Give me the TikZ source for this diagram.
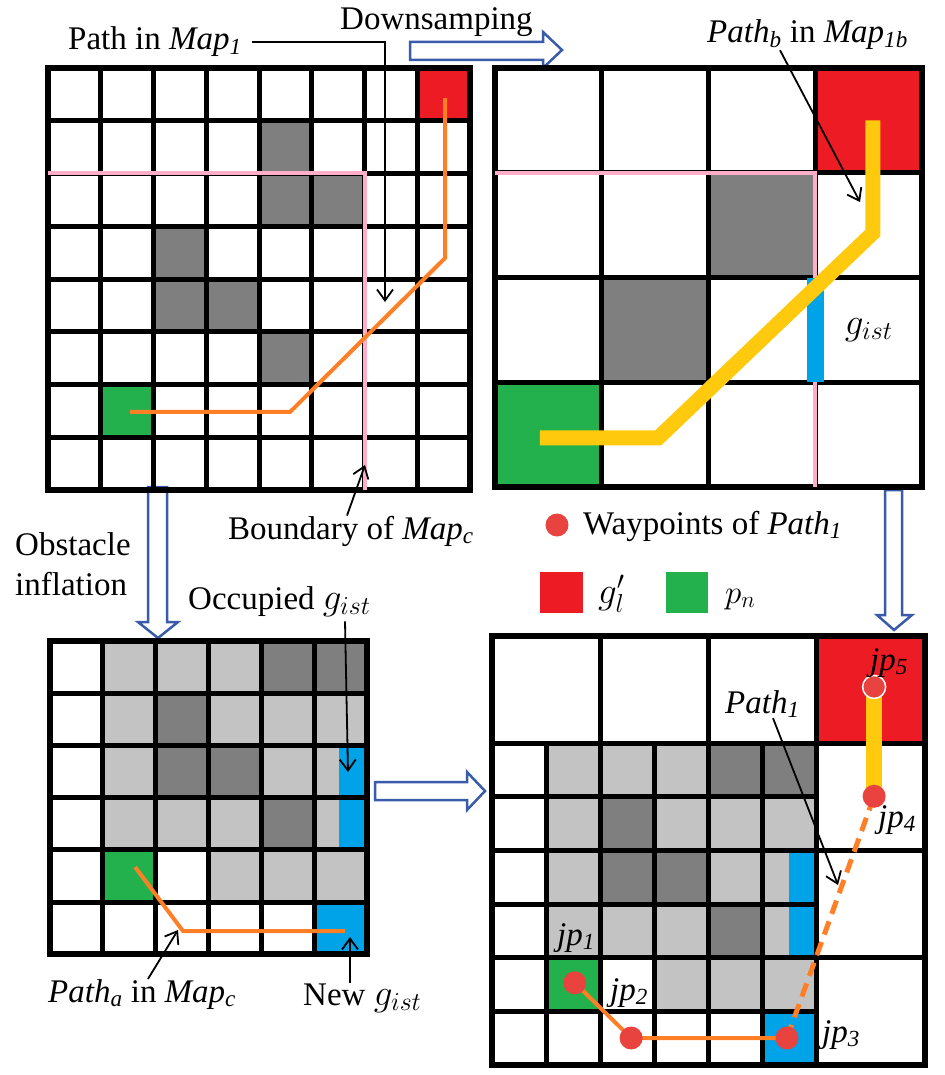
\RequirePackage{fix-cm}
\documentclass[tikz,border=0pt]{standalone}
\usepackage{fontspec}
\setmainfont{Liberation Serif}
\usepackage{tikz}
\usetikzlibrary{arrows.meta}
\usetikzlibrary{positioning}
\definecolor{cellred}{HTML}{ED1C24}
\definecolor{cellgreen}{HTML}{22B14C}
\definecolor{darkcell}{HTML}{7F7F7F}
\definecolor{lightcell}{HTML}{C3C3C3}
\definecolor{gistblue}{HTML}{00A2E8}
\definecolor{pathorange}{HTML}{FF7F27}
\definecolor{pathyellow}{HTML}{FFC90E}
\definecolor{boundpink}{HTML}{FFAEC9}
\definecolor{flowblue}{HTML}{3A5BAA}
\definecolor{wpred}{HTML}{E8433F}
\newcommand{\itsub}[2]{\textit{#1}\textsubscript{\textit{#2}}}
\newcommand{\gist}{{\fontsize{37}{40}\selectfont$g_{ist}$}}
\tikzset{mapline/.style = {line width=5pt}}
\tikzset{mapframe/.style = {line width=6pt}}
\tikzset{boundline/.style = {boundpink, line width=4pt}}
\tikzset{pathline/.style = {pathorange, line width=4pt}}
\tikzset{widepath/.style = {pathyellow, line width=16pt}}
\tikzset{callout/.style = {line width=1.8pt, -{Straight Barb[length=11pt, width=16pt]}}}
\tikzset{flow/.style = {draw=flowblue, line width=2.5pt, fill=white}}
\tikzset{txt/.style = {anchor=base west, inner sep=0}}
\tikzset{waypoint/.style = {circle, fill=wpred, inner sep=0, minimum size=23pt}}

\begin{document}
\begin{tikzpicture}[x=1pt, y=-1pt, every node/.style={font=\fontsize{33}{40}\selectfont}]
  \useasboundingbox (0,0) rectangle (944,1075);

  \draw[flow] (410,42) -- (543,42) -- (543,32) -- (562,50) -- (543,68) -- (543,60) -- (410,60) -- cycle;
  \draw[flow] (148,487) -- (148,622) -- (138,622) -- (158,638) -- (178,622) -- (167,622) -- (167,487) -- cycle;
  \draw[flow] (885,490) -- (885,615) -- (877,615) -- (894,630) -- (912,615) -- (902,615) -- (902,490) -- cycle;
  \draw[flow] (375,782) -- (467,782) -- (467,772) -- (485,791) -- (467,810) -- (467,800) -- (375,800) -- cycle;

  \begin{scope}[shift={(48,68)}, x=52.75pt, y=-52.75pt]
    \fill[cellred] (7,0) rectangle (8,1);
    \foreach \c/\r in {4/1,4/2,5/2,2/3,2/4,3/4,4/5}
      \fill[darkcell] (\c,\r) rectangle ++(1,1);
    \fill[cellgreen] (1,6) rectangle (2,7);
    \foreach \i in {1,...,7} {
      \draw[mapline] (\i,0) -- (\i,8);
      \draw[mapline] (0,\i) -- (8,\i);
    }
    \draw[mapframe] (0,0) rectangle (8,8);
    \draw[boundline] (0,2) -- (6,2) -- (6,8);
    \draw[pathline] (1.55,6.52) -- (4.59,6.52) -- (7.53,3.6) -- (7.53,0.57);
  \end{scope}

  \begin{scope}[shift={(495,68)}, x=106.75pt, y=-104.75pt]
    \fill[cellred] (3,0) rectangle (4,1);
    \fill[darkcell] (2,1) rectangle (3,2);
    \fill[darkcell] (1,2) rectangle (2,3);
    \fill[cellgreen] (0,3) rectangle (1,4);
    \foreach \i in {1,2,3} {
      \draw[mapline] (\i,0) -- (\i,4);
      \draw[mapline] (0,\i) -- (4,\i);
    }
    \draw[mapframe] (0,0) rectangle (4,4);
    \draw[boundline] (0,1) -- (3,1) -- (3,4);
    \fill[gistblue] (2.92,2) rectangle (3.08,3);
    \draw[widepath, line width=15pt] (0.42,3.53) -- (1.53,3.53) -- (3.54,1.575) -- (3.54,0.5);
    \node (gistb) at (3.5,2.5) {\gist};
  \end{scope}

  \begin{scope}[shift={(50,641)}, x=52.83pt, y=-52.2pt]
    \foreach \c/\r in {1/0,2/0,3/0,1/1,3/1,4/1,5/1,1/2,4/2,5/2,1/3,2/3,3/3,5/3,3/4,4/4,5/4}
      \fill[lightcell] (\c,\r) rectangle ++(1,1);
    \foreach \c/\r in {4/0,5/0,2/1,2/2,3/2,4/3}
      \fill[darkcell] (\c,\r) rectangle ++(1,1);
    \fill[cellgreen] (1,4) rectangle (2,5);
    \fill[gistblue] (5,5) rectangle (6,6);
    \fill[gistblue] (5.47,2) rectangle (6,4);
    \foreach \i in {1,...,5} {
      \draw[mapline] (\i,0) -- (\i,6);
      \draw[mapline] (0,\i) -- (6,\i);
    }
    \draw[mapframe] (0,0) rectangle (6,6);
    \draw[pathline] (1.61,4.33) -- (2.52,5.56) -- (5.58,5.56);
  \end{scope}

  \begin{scope}[shift={(492,636)}, x=54.125pt, y=-53.6pt]
    \fill[cellred] (6,0) rectangle (8,2);
    \foreach \c/\r in {1/0,2/0,3/0,1/1,3/1,4/1,5/1,1/2,4/2,5/2,1/3,2/3,3/3,5/3,3/4,4/4,5/4}
      \fill[lightcell] (\c,\r+2) rectangle ++(1,1);
    \foreach \c/\r in {4/0,5/0,2/1,2/2,3/2,4/3}
      \fill[darkcell] (\c,\r+2) rectangle ++(1,1);
    \fill[cellgreen] (1,6) rectangle (2,7);
    \fill[gistblue] (5,7) rectangle (6,8);
    \fill[gistblue] (5.49,4) rectangle (6,6);
    \foreach \i in {2,4,6} {
      \draw[mapline] (\i,0) -- (\i,8);
      \draw[mapline] (0,\i) -- (8,\i);
    }
    \foreach \i in {1,3,5} \draw[mapline] (\i,2) -- (\i,8);
    \foreach \i in {3,5,7} \draw[mapline] (0,\i) -- (6,\i);
    \draw[mapframe] (0,0) rectangle (8,8);
    \coordinate (jp1) at (1.53,6.47);
    \coordinate (jp2) at (2.57,7.5);
    \coordinate (jp3) at (5.45,7.5);
    \coordinate (jp4) at (7.06,2.99);
    \coordinate (jp5) at (7.06,0.95);
  \end{scope}

  \draw[widepath] (jp4) -- (jp5);
  \draw[pathline] (jp1) -- (jp2) -- (jp3);
  \draw[pathline, line width=5pt, dash pattern=on 14pt off 8pt] (jp3) -- (jp4);
  \node[waypoint] (jp1dot) at (jp1) {};
  \node[waypoint] (jp2dot) at (jp2) {};
  \node[waypoint] (jp3dot) at (jp3) {};
  \node[waypoint] (jp4dot) at (jp4) {};
  \node[waypoint, draw=white, line width=1.5pt] (jp5dot) at (jp5) {};
  \node[txt] (jp1lbl) at (557,945) {\itsub{jp}{1}};
  \node[txt] (jp2lbl) at (610,1000) {\itsub{jp}{2}};
  \node[txt] (jp3lbl) at (822,1042) {\itsub{jp}{3}};
  \node[txt] (jp4lbl) at (878,827) {\itsub{jp}{4}};
  \node[txt] (jp5lbl) at (870,670) {\itsub{jp}{5}};

  \node[txt] (pathmap1) at (68,50) {Path in \itsub{Map}{1}};
  \node[txt] (downsamp) at (340,30) {Downsamping};
  \node[txt] (pathb) at (707,43) {\itsub{Path}{b} in \itsub{Map}{1b}};
  \node[txt] (boundary) at (228,539) {Boundary of \itsub{Map}{c}};
  \node[anchor=north west, inner sep=0, align=left] (inflation) at (15,532) {Obstacle\\inflation};
  \node[txt] (occupied) at (188,609) {Occupied \gist};
  \node[txt] (patha) at (48,1002) {\itsub{Path}{a} in \itsub{Map}{c}};
  \node[txt] (newgist) at (303,1005) {New \gist};
  \node[txt] (path1) at (725,713) {\itsub{Path}{1}};

  \coordinate (tipmap1) at (385,302);
  \coordinate (tipb) at (860,202);
  \coordinate (tipbound) at (365,465);
  \coordinate (tipoccupied) at (348,772);
  \coordinate (tipa) at (178,930);
  \coordinate (tipnew) at (350,937);
  \coordinate (tippath1) at (838,885);
  \draw[callout] ([xshift=10pt]pathmap1.east) -| (tipmap1);
  \draw[callout] ([xshift=73pt]pathb.south west) -- (tipb);
  \draw[callout] ([xshift=119pt]boundary.north west) -- (tipbound);
  \draw[callout] ([xshift=157pt, yshift=-5pt]occupied.south west) -- (tipoccupied);
  \draw[callout] ([xshift=100pt]patha.north west) -- (tipa);
  \draw[callout] ([xshift=47pt]newgist.north west) -- (tipnew);
  \draw[callout] ([xshift=48pt]path1.south west) -- (tippath1);

  \node[waypoint] (legenddot) at (557,525) {};
  \node[txt] (legendwp) at (583,534) {Waypoints of \itsub{Path}{1}};
  \fill[cellred] (540,572) rectangle (583,613);
  \node[txt] (legendgoal) at (598,603) {{\fontsize{37}{40}\selectfont$g'_l$}};
  \fill[cellgreen] (666,572) rectangle (708,613);
  \node[txt] (legendstart) at (725,603) {$p_n$};
\end{tikzpicture}
\end{document}
